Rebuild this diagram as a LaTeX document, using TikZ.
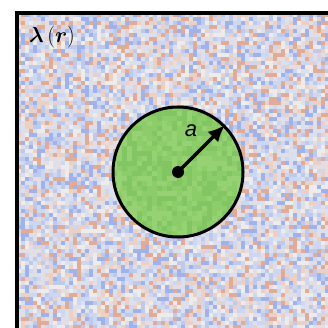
\documentclass[tikz,border=0pt]{standalone}
\usepackage{fontspec}
\usepackage{amsmath}
\usetikzlibrary{arrows.meta}
\newfontfamily\labelsf{Liberation Sans}

% noise colours
\definecolor{nz1}{RGB}{238,236,234}
\definecolor{nz2}{RGB}{205,215,242}
\definecolor{nz3}{RGB}{160,178,236}
\definecolor{nz4}{RGB}{236,208,196}
\definecolor{nz5}{RGB}{224,172,152}
\definecolor{nz6}{RGB}{218,224,238}
\definecolor{nz7}{RGB}{190,202,235}
\definecolor{nz8}{RGB}{228,222,226}
\definecolor{gz1}{RGB}{140,205,105}
\definecolor{gz2}{RGB}{130,198,100}
\definecolor{gz3}{RGB}{150,210,115}

\begin{document}
\begin{tikzpicture}[x=1pt, y=-1pt,
  rim/.style={line width=3pt},
  lamlabel/.style={font=\fontsize{22}{26}\selectfont, scale=1.05},
  alabel/.style={font=\fontsize{22}{26}\selectfont\labelsf\itshape},
  radius arrow/.style={-{Latex[length=17pt,width=15pt]}, line width=3.5pt}]
\useasboundingbox (0,0) rectangle (328,328);
\pgfmathsetseed{11}
% ---- noisy field ----
\begin{scope}
\clip (17,13) rectangle (328,328);
\foreach \i in {0,...,78}{
  \foreach \j in {0,...,79}{
    \pgfmathrandominteger{\nk}{1}{8}
    \fill[nz\nk] ({17+4*\i},{13+4*\j}) rectangle +(4,4);
  }}
\end{scope}
\draw[line width=4pt] (17,335) -- (17,13) -- (335,13);
\node[lamlabel] (lam) at (52,37) {$\boldsymbol{\lambda}\,\mathbf{(}\boldsymbol{r}\mathbf{)}$};
% ---- green disk ----
\coordinate (ctr) at (178,172);
\begin{scope}
\clip (ctr) circle (65);
\foreach \i in {0,...,26}{
  \foreach \j in {0,...,26}{
    \pgfmathrandominteger{\nk}{1}{3}
    \fill[gz\nk] ({112+5*\i},{106+5*\j}) rectangle +(5,5);
  }}
\end{scope}
\node[circle, draw, rim, minimum size=130pt, inner sep=0pt] (disk) at (ctr) {};
\fill (ctr) circle (6);
\draw[radius arrow] (ctr) -- (disk.45);
\node[alabel] (a) at (191,131) {a};
\end{tikzpicture}
\end{document}
